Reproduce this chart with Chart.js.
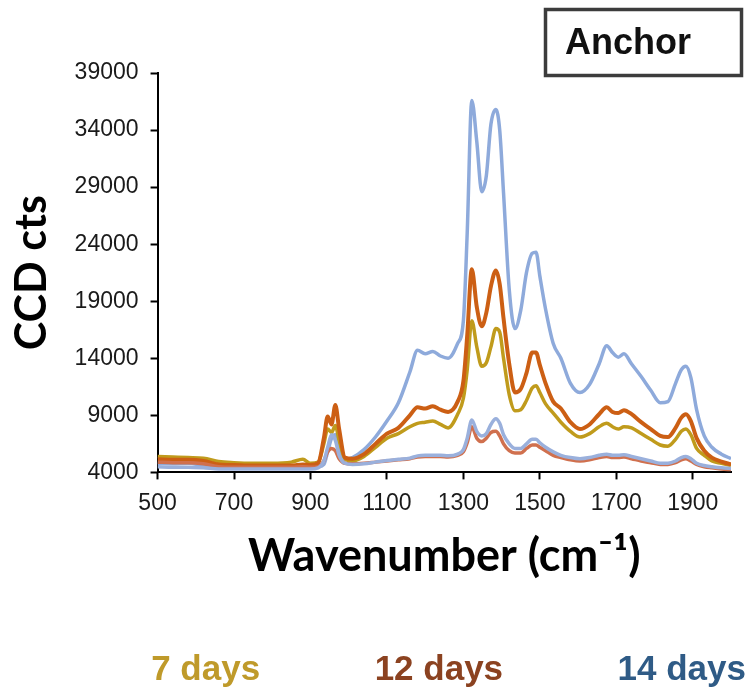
<!DOCTYPE html>
<html>
<head>
<meta charset="utf-8">
<script src="https://cdn.jsdelivr.net/npm/chart.js@4.4.1/dist/chart.umd.min.js"></script>
<style>
  html, body { margin: 0; padding: 0; background: #ffffff; }
  #wrap { width: 756px; height: 698px; position: relative; }
</style>
</head>
<body>
<div id="wrap"><canvas id="c" width="756" height="698"></canvas></div>
<script>
// ---------------- data ----------------
const wavenumbers = [500, 540, 580, 620, 660, 700, 750, 800, 850, 880, 900, 920, 935, 945, 955, 965, 975, 990, 1010, 1040, 1070, 1100, 1130, 1160, 1180, 1200, 1220, 1240, 1260, 1285, 1300, 1310, 1322, 1335, 1348, 1360, 1372, 1385, 1395, 1405, 1420, 1435, 1450, 1465, 1480, 1490, 1500, 1515, 1535, 1555, 1580, 1605, 1630, 1655, 1675, 1690, 1705, 1720, 1740, 1765, 1790, 1815, 1835, 1855, 1870, 1882, 1895, 1910, 1930, 1950, 1975, 2000];

const days14Upper = [4800, 4750, 4800, 4600, 4450, 4450, 4400, 4400, 4400, 4450, 4450, 4500, 4700, 5800, 7000, 7300, 6000, 5100, 5300, 6000, 7100, 8500, 10100, 12800, 14700, 14400, 14600, 14200, 14000, 15300, 17300, 25000, 36600, 33000, 28600, 30000, 34500, 35800, 34000, 28500, 20000, 16600, 18200, 21500, 23200, 23300, 21200, 18300, 15300, 14000, 11800, 11000, 11700, 13500, 15100, 14500, 14100, 14400, 13500, 12400, 11200, 10100, 10200, 11800, 13000, 13300, 12300, 9500, 7200, 6200, 5600, 5200];

const days12Upper = [5150, 5100, 5100, 5000, 4700, 4650, 4600, 4600, 4600, 4700, 4650, 4800, 7000, 8900, 8200, 9900, 7800, 5300, 5200, 5600, 6500, 7400, 7900, 9000, 9700, 9600, 9800, 9500, 9300, 10200, 12000, 16000, 21800, 18500, 16800, 18000, 20300, 21700, 20500, 17500, 13500, 11000, 11300, 12700, 14500, 14500, 13400, 11800, 10200, 9600, 8400, 7800, 8200, 9100, 9700, 9300, 9200, 9450, 9100, 8400, 7800, 7200, 7100, 7900, 8800, 9100, 8500, 7000, 5900, 5300, 4950, 4700];

const days7Upper = [5400, 5350, 5300, 5250, 4950, 4850, 4800, 4800, 4900, 5150, 4800, 4900, 6500, 7800, 7500, 8100, 6800, 5200, 5000, 5400, 6200, 7000, 7400, 8000, 8300, 8400, 8500, 8200, 7900, 9100, 10500, 13000, 17300, 15000, 13300, 13600, 15000, 16600, 16300, 14000, 10800, 9400, 9500, 10300, 11400, 11600, 11000, 10000, 9200, 8400, 7600, 7100, 7400, 8000, 8300, 8000, 7800, 8000, 7900, 7400, 6900, 6400, 6300, 6900, 7600, 7800, 7300, 6100, 5500, 5000, 4800, 4600];

const days14Lower = [4500, 4450, 4450, 4400, 4300, 4300, 4300, 4300, 4300, 4300, 4300, 4400, 5000, 6200, 7300, 6800, 5500, 4800, 4700, 4750, 4900, 5050, 5150, 5250, 5450, 5500, 5500, 5500, 5450, 5600, 6000, 7000, 8600, 7600, 7200, 7400, 8200, 8700, 8300, 7300, 6500, 6100, 6100, 6500, 6900, 6900, 6600, 6200, 5800, 5500, 5300, 5200, 5300, 5500, 5600, 5500, 5500, 5550, 5400, 5200, 5000, 4800, 4800, 5000, 5300, 5400, 5200, 4800, 4600, 4500, 4400, 4350];

const days12Lower = [4900, 4850, 4850, 4750, 4500, 4450, 4450, 4450, 4450, 4500, 4450, 4500, 5000, 5800, 6100, 5900, 5200, 4800, 4750, 4800, 4900, 5000, 5100, 5200, 5350, 5400, 5400, 5400, 5350, 5500, 5800, 6600, 8000, 7000, 6700, 7000, 7500, 7600, 7200, 6500, 5900, 5700, 5700, 6100, 6400, 6400, 6200, 5900, 5500, 5300, 5100, 5000, 5100, 5300, 5400, 5300, 5300, 5350, 5200, 5000, 4850, 4700, 4700, 4850, 5100, 5200, 5000, 4700, 4500, 4400, 4300, 4250];

const xTickValues = [500, 700, 900, 1100, 1300, 1500, 1700, 1900];
const yTickValues = [4000, 9000, 14000, 19000, 24000, 29000, 34000, 39000];
const legendLabels = ['7 days', '12 days', '14 days'];
const legendColors = ['#BF9A2A', '#8B4220', '#2F5B86'];
const panelLabel = 'Anchor';

// ---------------- helpers ----------------
const pts = (ys) => wavenumbers.map((x, i) => ({ x: x, y: ys[i] }));
const line = (label, ys, color, width) => ({
  label: label, data: pts(ys), borderColor: color, backgroundColor: color,
  borderWidth: width, pointRadius: 0, pointHoverRadius: 0, fill: false,
  cubicInterpolationMode: 'monotone', yAxisID: 'y'
});

const panelPlugin = {
  id: 'panelBox',
  afterDraw(chart) {
    const ctx = chart.ctx;
    ctx.save();
    ctx.lineWidth = 3.5;
    ctx.strokeStyle = '#3c3c3c';
    ctx.strokeRect(545.5, 9.5, 196, 66);
    ctx.fillStyle = '#111111';
    ctx.font = 'bold 36px "Liberation Sans", Arial, sans-serif';
    ctx.textBaseline = 'alphabetic';
    ctx.textAlign = 'left';
    ctx.fillText(panelLabel, 565, 54);
    ctx.restore();
  }
};

const tickFont = { family: '"Liberation Sans", Arial, sans-serif', size: 23 };
const xTitleFont = { family: 'Lato, "Open Sans", sans-serif', size: 45, weight: 'bold' };
const yTitleFont = { family: 'Lato, "Open Sans", sans-serif', size: 43, weight: 'bold' };

new Chart(document.getElementById('c'), {
  type: 'line',
  data: {
    datasets: [
      line('14 days (b)', days14Lower, '#9AB0DC', 3.5),
      line('12 days (b)', days12Lower, '#D0704E', 3.5),
      line('12 days', days12Upper, '#CC5F14', 4),
      line('7 days', days7Upper, '#C09B1C', 3.5),
      line('14 days', days14Upper, '#8EAADB', 3.5)
    ]
  },
  options: {
    responsive: false,
    animation: false,
    events: [],
    layout: { padding: { top: 73, right: 0, left: 0, bottom: 0 } },
    plugins: {
      tooltip: { enabled: false },
      legend: {
        display: true,
        position: 'bottom',
        align: 'end',
        labels: {
          font: { family: '"Liberation Sans", Arial, sans-serif', size: 35, weight: 'bold' },
          boxWidth: 87,
          boxHeight: 1,
          padding: 10,
          generateLabels() {
            return legendLabels.map((t, i) => ({
              text: t, fontColor: legendColors[i], fillStyle: 'rgba(0,0,0,0)',
              strokeStyle: 'rgba(0,0,0,0)', lineWidth: 0, hidden: false, datasetIndex: i
            }));
          }
        }
      }
    },
    scales: {
      x: {
        type: 'linear',
        min: 500, max: 2000,
        afterBuildTicks(scale) { scale.ticks = xTickValues.map(v => ({ value: v })); },
        ticks: { font: tickFont, color: '#1a1a1a', padding: 10, maxRotation: 0, autoSkip: false,
                 callback: (v) => String(v) },
        grid: { display: true, drawOnChartArea: false, drawTicks: true, tickLength: 7, tickWidth: 2, tickColor: '#000' },
        border: { display: true, color: '#000', width: 2 },
        title: { display: true, text: 'Wavenumber (cm⁻¹)', font: xTitleFont, color: '#000',
                 padding: { top: 2, bottom: 60 } }
      },
      y: {
        type: 'linear',
        position: 'left',
        min: 4000, max: 39000,
        afterBuildTicks(scale) { scale.ticks = yTickValues.map(v => ({ value: v })); },
        ticks: { font: tickFont, color: '#1a1a1a', padding: 12, autoSkip: false,
                 callback: (v) => String(v) },
        grid: { display: true, drawOnChartArea: false, drawTicks: true, tickLength: 7, tickWidth: 2, tickColor: '#000' },
        border: { display: true, color: '#000', width: 2 },
        title: { display: true, text: 'CCD cts', font: yTitleFont, color: '#000',
                 padding: { top: 6, bottom: 5 } }
      },
      yR: {
        type: 'linear',
        position: 'right',
        display: true,
        min: 0, max: 1,
        ticks: { display: false },
        grid: { display: false, drawTicks: false },
        border: { display: false },
        afterFit(scale) { scale.width = 25; }
      }
    }
  },
  plugins: [panelPlugin]
});
</script>
</body>
</html>
